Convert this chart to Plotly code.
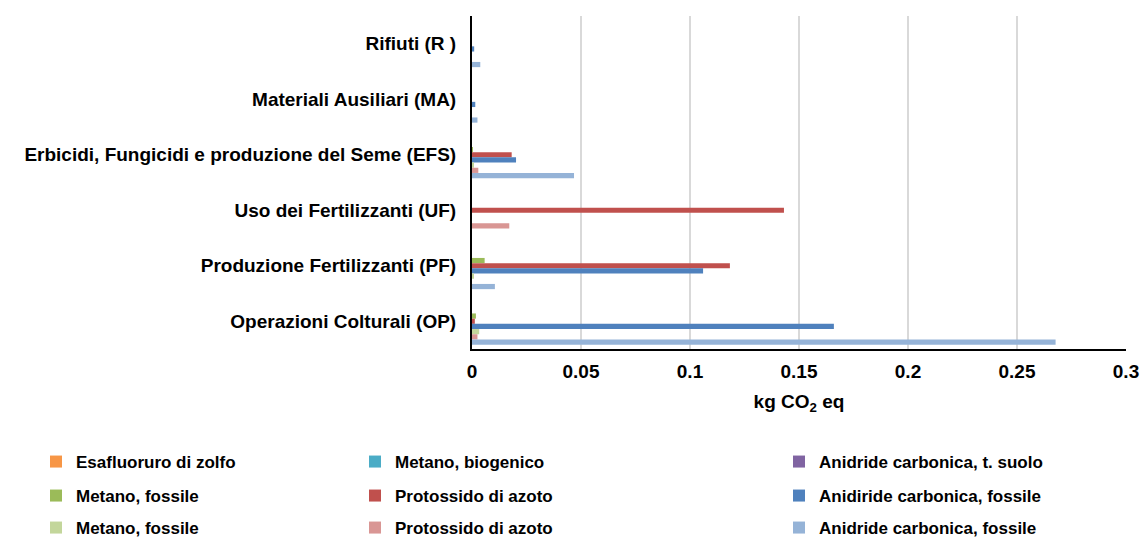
import plotly.graph_objects as go

categories = [
    "Rifiuti (R )",
    "Materiali Ausiliari (MA)",
    "Erbicidi, Fungicidi e produzione del Seme (EFS)",
    "Uso dei Fertilizzanti (UF)",
    "Produzione Fertilizzanti (PF)",
    "Operazioni Colturali (OP)",
]

series_names = [
    "Esafluoruro di zolfo",
    "Metano, biogenico",
    "Anidride carbonica, t. suolo",
    "Metano, fossile",
    "Protossido di azoto",
    "Anidiride carbonica, fossile",
    "Metano, fossile",
    "Protossido di azoto",
    "Anidride carbonica, fossile",
]

colors = ["#F79646", "#4BACC6", "#8064A2", "#9BBB59", "#C0504D",
          "#4F81BD", "#C3D69B", "#D99694", "#95B3D7"]

# values per series, in category order (R, MA, EFS, UF, PF, OP)
esafluoruro = [0, 0, 0, 0, 0, 0]
metano_bio = [0, 0, 0, 0, 0, 0]
co2_suolo = [0, 0, 0, 0, 0, 0]
metano_fos = [0, 0, 0.0002, 0, 0.0058, 0.0018]
protossido = [0, 0, 0.0182, 0.1431, 0.1183, 0.0013]
co2_fos = [0.0010, 0.0015, 0.0202, 0, 0.1060, 0.1660]
metano_fos_b = [0, 0, 0.0005, 0, 0.0008, 0.0033]
protossido_b = [0, 0, 0.0029, 0.0171, 0, 0.0025]
co2_fos_b = [0.0038, 0.0025, 0.0468, 0, 0.0105, 0.2677]

values = [esafluoruro, metano_bio, co2_suolo, metano_fos, protossido,
          co2_fos, metano_fos_b, protossido_b, co2_fos_b]

FONT = "Liberation Sans, Arial, sans-serif"
W, H = 1143, 538

# legend positions (container coords)
leg_x = [36 / W, 355 / W, 779 / W]
leg_y = [1 - 462 / H, 1 - 496 / H, 1 - 528 / H]

fig = go.Figure()
for i, (name, vals, col) in enumerate(zip(series_names, values, colors)):
    lg = "legend" if i == 0 else f"legend{i+1}"
    fig.add_trace(go.Bar(
        y=categories, x=vals, name=name, orientation="h",
        marker=dict(color=col, line=dict(width=0)),
        legend=lg, showlegend=True,
    ))

layout_legends = {}
for i in range(9):
    key = "legend" if i == 0 else f"legend{i+1}"
    layout_legends[key] = dict(
        x=leg_x[i % 3], y=leg_y[i // 3], xref="container", yref="container",
        xanchor="left", yanchor="middle",
        orientation="h", bgcolor="rgba(0,0,0,0)",
        font=dict(family=FONT, size=17, color="#000000", weight="bold"),
    )

fig.update_layout(
    width=W, height=H,
    margin=dict(l=472, r=17, t=16, b=189),
    paper_bgcolor="white", plot_bgcolor="white",
    barmode="group", bargap=0.157, bargroupgap=0,
    showlegend=True,
    font=dict(family=FONT, size=19, color="#000000", weight="bold"),
    **layout_legends,
)

fig.update_xaxes(
    range=[0, 0.3], dtick=0.05, tick0=0, automargin=False,
    showgrid=True, gridcolor="#D9D9D9", gridwidth=2,
    showline=True, linecolor="#000000", linewidth=2,
    zeroline=False, ticks="", ticklabelstandoff=4,
    tickfont=dict(family=FONT, size=19, color="#000000", weight="bold"),
    title=dict(text="kg CO<sub>2</sub> eq", standoff=14,
               font=dict(family=FONT, size=19, color="#000000", weight="bold")),
)
fig.update_yaxes(
    autorange="reversed", type="category", automargin=False,
    showline=True, linecolor="#000000", linewidth=2,
    showgrid=False, ticks="", ticklabelstandoff=10,
    tickfont=dict(family=FONT, size=19, color="#000000", weight="bold"),
)

fig.write_html("out.html")
